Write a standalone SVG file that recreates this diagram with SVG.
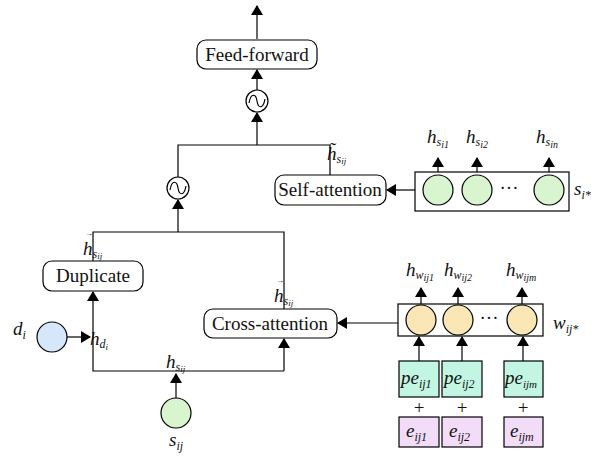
<svg xmlns="http://www.w3.org/2000/svg" width="600" height="459" viewBox="0 0 600 459">
<style>
.box{fill:#fff;stroke:#000;stroke-width:1.2}
.ln{fill:none;stroke:#000;stroke-width:1.2}
text{font-family:"Liberation Serif","Times New Roman","DejaVu Serif",serif;fill:#111}
.t{font-size:19px}
.m{font-style:italic;font-size:19px}
.g{fill:#d8f5cf;stroke:#000;stroke-width:1.2}
.y{fill:#fbe7b5;stroke:#000;stroke-width:1.2}
.b{fill:#d7e7fb;stroke:#000;stroke-width:1.2}
.p{fill:#c3f5e3;stroke:#000;stroke-width:1.2}
.e{fill:#f3dcf8;stroke:#000;stroke-width:1.2}
</style>
<defs>
<marker id="ah" markerWidth="10" markerHeight="12" refX="9" refY="6" orient="auto" markerUnits="userSpaceOnUse">
<path d="M0,0 L10,6 L0,12 z" fill="#000"/>
</marker>
</defs>
<rect width="600" height="459" fill="#fff"/>

<g id="connectors">
<line class="ln" x1="257" y1="39" x2="257" y2="6" marker-end="url(#ah)"/>
<line class="ln" x1="257" y1="90" x2="257" y2="70" marker-end="url(#ah)"/>
<line class="ln" x1="257" y1="145" x2="257" y2="113" marker-end="url(#ah)"/>
<polyline class="ln" points="178,177 178,145 330,145 330,175"/>
<line class="ln" x1="178" y1="232" x2="178" y2="200" marker-end="url(#ah)"/>
<line class="ln" x1="415" y1="190" x2="387" y2="190" marker-end="url(#ah)"/>
<polyline class="ln" points="93,261 93,232 284,232 284,309"/>
<line class="ln" x1="93" y1="352" x2="93" y2="292" marker-end="url(#ah)"/>
<line class="ln" x1="67" y1="337" x2="90" y2="337" marker-end="url(#ah)"/>
<polyline class="ln" points="93,352 93,371 284,371"/>
<line class="ln" x1="284" y1="371" x2="284" y2="339" marker-end="url(#ah)"/>
<line class="ln" x1="176" y1="398" x2="176" y2="374" marker-end="url(#ah)"/>
<line class="ln" x1="398" y1="323" x2="338" y2="323" marker-end="url(#ah)"/>
<line class="ln" x1="438" y1="175" x2="438" y2="158" marker-end="url(#ah)"/>
<line class="ln" x1="477" y1="175" x2="477" y2="158" marker-end="url(#ah)"/>
<line class="ln" x1="549" y1="175" x2="549" y2="158" marker-end="url(#ah)"/>
<line class="ln" x1="421" y1="305" x2="421" y2="288" marker-end="url(#ah)"/>
<line class="ln" x1="458" y1="305" x2="458" y2="288" marker-end="url(#ah)"/>
<line class="ln" x1="522" y1="305" x2="522" y2="288" marker-end="url(#ah)"/>
<line class="ln" x1="419" y1="361" x2="419" y2="337" marker-end="url(#ah)"/>
<line class="ln" x1="462" y1="361" x2="462" y2="337" marker-end="url(#ah)"/>
<line class="ln" x1="523" y1="361" x2="523" y2="337" marker-end="url(#ah)"/>
</g>

<g id="feedforward">
<rect class="box" x="197" y="40" width="120" height="29" rx="9"/>
<text class="t" x="257" y="61" text-anchor="middle">Feed-forward</text>
</g>

<g id="sum-top">
<circle class="box" cx="257" cy="101" r="11"/>
<path class="ln" d="M249,103 C251,92 256,94 257,101 C258,108 263,110 265,99"/>
</g>

<g id="sum-mid">
<circle class="box" cx="178" cy="188" r="11"/>
<path class="ln" d="M170,190 C172,179 177,181 178,188 C179,195 184,197 186,186"/>
</g>

<g id="selfattention">
<rect class="box" x="275" y="175" width="111" height="30" rx="9"/>
<text class="t" x="330" y="196" text-anchor="middle">Self-attention</text>
</g>

<g id="si-box">
<rect class="box" x="415" y="172" width="154" height="39"/>
<circle class="g" cx="438" cy="190" r="15"/>
<circle class="g" cx="477" cy="190" r="15"/>
<circle class="g" cx="549" cy="190" r="15"/>
<text class="t" x="509" y="194" text-anchor="middle" font-size="12">···</text>
<text class="m" x="574" y="195">s<tspan font-size="12" dy="4">i*</tspan></text>
<text class="m" x="427" y="143">h<tspan font-size="12" dy="3">s</tspan><tspan font-size="10" dy="2">i1</tspan></text>
<text class="m" x="466" y="143">h<tspan font-size="12" dy="3">s</tspan><tspan font-size="10" dy="2">i2</tspan></text>
<text class="m" x="536" y="143">h<tspan font-size="12" dy="3">s</tspan><tspan font-size="10" dy="2">in</tspan></text>
</g>

<g id="duplicate">
<rect class="box" x="43" y="261" width="100" height="30" rx="9"/>
<text class="t" x="93" y="282" text-anchor="middle">Duplicate</text>
</g>

<g id="crossattention">
<rect class="box" x="204" y="309" width="133" height="29" rx="9"/>
<text class="t" x="270" y="330" text-anchor="middle">Cross-attention</text>
</g>

<g id="di">
<circle class="b" cx="52" cy="337" r="15"/>
<text class="m" x="13" y="335">d<tspan font-size="12" dy="4">i</tspan></text>
</g>

<g id="sij">
<circle class="g" cx="176" cy="413" r="15"/>
<text class="m" x="169" y="446">s<tspan font-size="12" dy="4">ij</tspan></text>
</g>

<g id="wij-box">
<rect class="box" x="398" y="304" width="145" height="32"/>
<circle class="y" cx="421" cy="320" r="15"/>
<circle class="y" cx="458" cy="320" r="15"/>
<circle class="y" cx="522" cy="320" r="15"/>
<text class="t" x="489" y="324" text-anchor="middle" font-size="12">···</text>
<text class="m" x="553" y="329">w<tspan font-size="12" dy="4">ij*</tspan></text>
<text class="m" x="406" y="276">h<tspan font-size="12" dy="3">w</tspan><tspan font-size="10" dy="2">ij1</tspan></text>
<text class="m" x="444" y="276">h<tspan font-size="12" dy="3">w</tspan><tspan font-size="10" dy="2">ij2</tspan></text>
<text class="m" x="506" y="276">h<tspan font-size="12" dy="3">w</tspan><tspan font-size="10" dy="2">ijm</tspan></text>
</g>

<g id="pe">
<rect class="p" x="399" y="361" width="40" height="36"/>
<rect class="p" x="442" y="361" width="40" height="36"/>
<rect class="p" x="504" y="361" width="39" height="36"/>
<text class="m" x="401" y="384" font-size="21">pe<tspan font-size="12" dy="4">ij1</tspan></text>
<text class="m" x="444" y="384" font-size="21">pe<tspan font-size="12" dy="4">ij2</tspan></text>
<text class="m" x="505" y="384" font-size="21">pe<tspan font-size="11" dy="4">ijm</tspan></text>
<text class="t" x="419" y="414" text-anchor="middle" font-size="18">+</text>
<text class="t" x="462" y="414" text-anchor="middle" font-size="18">+</text>
<text class="t" x="523" y="414" text-anchor="middle" font-size="18">+</text>
</g>

<g id="e">
<rect class="e" x="399" y="417" width="40" height="30"/>
<rect class="e" x="442" y="417" width="40" height="30"/>
<rect class="e" x="504" y="417" width="39" height="30"/>
<text class="m" x="406" y="437" font-size="21">e<tspan font-size="12" dy="4">ij1</tspan></text>
<text class="m" x="449" y="437" font-size="21">e<tspan font-size="12" dy="4">ij2</tspan></text>
<text class="m" x="510" y="437" font-size="21">e<tspan font-size="12" dy="4">ijm</tspan></text>
</g>

<g id="labels">
<text class="m" x="90" y="345" font-size="18">h<tspan font-size="12" dy="3">d</tspan><tspan font-size="9" dy="2">i</tspan></text>
<text class="m" x="166" y="368" font-size="18">h<tspan font-size="12" dy="3">s</tspan><tspan font-size="9" dy="1">ij</tspan></text>
<text class="m" x="83" y="255" font-size="18">h<tspan font-size="12" dy="3">s</tspan><tspan font-size="9" dy="1">ij</tspan></text>
<text x="85" y="236" font-size="8">→</text>
<text class="m" x="274" y="302" font-size="18">h<tspan font-size="12" dy="3">s</tspan><tspan font-size="9" dy="1">ij</tspan></text>
<text x="276" y="283" font-size="8">→</text>
<text class="m" x="327" y="160" font-size="18">h&#x303;<tspan font-size="12" dy="3">s</tspan><tspan font-size="9" dy="1">ij</tspan></text>
</g>
</svg>
